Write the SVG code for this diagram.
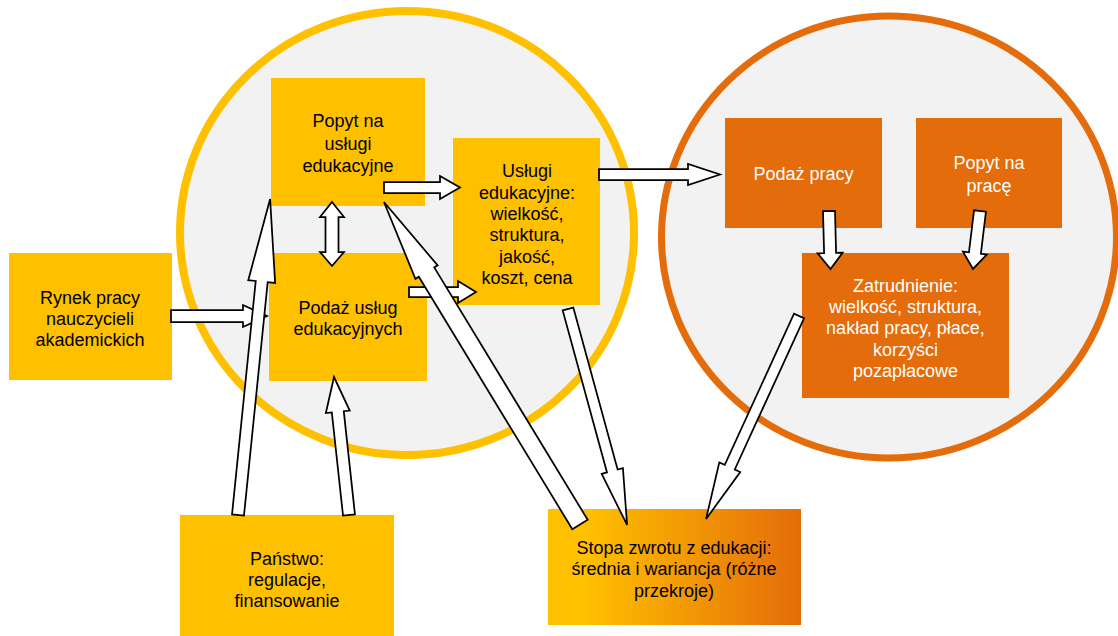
<svg xmlns="http://www.w3.org/2000/svg" width="1118" height="636" viewBox="0 0 1118 636">
  <defs>
    <linearGradient id="gradStopa" x1="0" y1="0" x2="1" y2="0">
      <stop offset="0" stop-color="#FFC000"/>
      <stop offset="0.15" stop-color="#FFC000"/>
      <stop offset="1" stop-color="#E46C0A"/>
    </linearGradient>
    <style>
      .bg { fill: #FFFFFF; }
      .ringY { fill: #F2F2F2; stroke: #FFC000; stroke-width: 8; }
      .ringO { fill: #F2F2F2; stroke: #E46C0A; stroke-width: 7; }
      .boxY { fill: #FFC000; }
      .boxO { fill: #E46C0A; }
      .txt { font-family: "Liberation Sans", Arial, sans-serif; font-size: 18px; text-anchor: middle; fill: #000000; }
      .txtW { fill: #FFFFFF; }
      .arr { fill: #FFFFFF; stroke: #000000; stroke-width: 1.75; stroke-linejoin: miter; }
    </style>
  </defs>
  <rect class="bg" x="0" y="0" width="1118" height="636"/>

  <g id="circles">
    <ellipse class="ringY" cx="407" cy="233" rx="227" ry="222"/>
    <ellipse class="ringO" cx="889" cy="237" rx="227.5" ry="221"/>
  </g>

  <g id="node-rynek">
    <rect class="boxY" x="9" y="253" width="163" height="127"/>
    <text class="txt" x="90" y="303.5">Rynek pracy</text>
    <text class="txt" x="90" y="324.5">nauczycieli</text>
    <text class="txt" x="90" y="345.5">akademickich</text>
  </g>

  <g id="node-popyt">
    <rect class="boxY" x="271" y="78" width="154" height="128"/>
    <text class="txt" x="348" y="127">Popyt na</text>
    <text class="txt" x="348" y="149.5">usługi</text>
    <text class="txt" x="348" y="172">edukacyjne</text>
  </g>

  <g id="node-podaz">
    <rect class="boxY" x="269" y="253" width="158" height="128"/>
    <text class="txt" x="348" y="313.5">Podaż usług</text>
    <text class="txt" x="348" y="334.5">edukacyjnych</text>
  </g>

  <g id="node-uslugi">
    <rect class="boxY" x="453" y="138" width="147" height="167"/>
    <text class="txt" x="527" y="176.5">Usługi</text>
    <text class="txt" x="527" y="198.5">edukacyjne:</text>
    <text class="txt" x="527" y="219.5">wielkość,</text>
    <text class="txt" x="527" y="240.5">struktura,</text>
    <text class="txt" x="527" y="262.5">jakość,</text>
    <text class="txt" x="527" y="283.5">koszt, cena</text>
  </g>

  <g id="node-podaz-pracy">
    <rect class="boxO" x="725" y="118" width="157" height="110"/>
    <text class="txt txtW" x="803.5" y="179.5">Podaż pracy</text>
  </g>

  <g id="node-popyt-na-prace">
    <rect class="boxO" x="916" y="118" width="146" height="110"/>
    <text class="txt txtW" x="989" y="168.5">Popyt na</text>
    <text class="txt txtW" x="989" y="191.5">pracę</text>
  </g>

  <g id="node-zatrudnienie">
    <rect class="boxO" x="802" y="253" width="207" height="145"/>
    <text class="txt txtW" x="905.5" y="291.5">Zatrudnienie:</text>
    <text class="txt txtW" x="905.5" y="312.5">wielkość, struktura,</text>
    <text class="txt txtW" x="905.5" y="333.5">nakład pracy, płace,</text>
    <text class="txt txtW" x="905.5" y="355.5">korzyści</text>
    <text class="txt txtW" x="905.5" y="376.5">pozapłacowe</text>
  </g>

  <g id="node-panstwo">
    <rect class="boxY" x="180" y="515" width="214" height="121"/>
    <text class="txt" x="287" y="564.5">Państwo:</text>
    <text class="txt" x="287" y="585.5">regulacje,</text>
    <text class="txt" x="287" y="606.5">finansowanie</text>
  </g>

  <g id="node-stopa">
    <rect x="548" y="509" width="253" height="116" fill="url(#gradStopa)"/>
    <text class="txt" x="674" y="553.5">Stopa zwrotu z edukacji:</text>
    <text class="txt" x="674" y="574.5">średnia i wariancja (różne</text>
    <text class="txt" x="674" y="596.5">przekroje)</text>
  </g>

  <g id="connectors">
    <!-- Rynek -> Podaż -->
    <polygon class="arr" transform="translate(171,316)" points="0,-6 72,-6 72,-11 96,0 72,11 72,6 0,6"/>
    <!-- Popyt -> Usługi -->
    <polygon class="arr" transform="translate(384,187.5)" points="0,-5.5 56,-5.5 56,-11.5 76,0 56,11.5 56,5.5 0,5.5"/>
    <!-- Podaż -> Usługi -->
    <polygon class="arr" transform="translate(409,292)" points="0,-5 49,-5 49,-11 67,0 49,11 49,5 0,5"/>
    <!-- Popyt <-> Podaż -->
    <polygon class="arr" points="332,202 344,217 338.5,217 338.5,252 344,252 332,266 320,252 325.5,252 325.5,217 320,217"/>
    <!-- Usługi -> Podaż pracy -->
    <polygon class="arr" transform="translate(599,174.5)" points="0,-5.5 89,-5.5 89,-10.5 121,0 89,10.5 89,5.5 0,5.5"/>
    <!-- Podaż pracy -> Zatrudnienie -->
    <polygon class="arr" transform="translate(829,211) rotate(88.5)" points="0,-6 42,-6 42,-12.5 58,0 42,12.5 42,6 0,6"/>
    <!-- Popyt na pracę -> Zatrudnienie -->
    <polygon class="arr" transform="translate(980,211) rotate(96.9)" points="0,-6 42.4,-6 42.4,-12 58.4,0 42.4,12 42.4,6 0,6"/>
    <!-- Zatrudnienie -> Stopa -->
    <polygon class="arr" transform="translate(799,316) rotate(114.6)" points="0,-5.5 166.3,-5.5 166.3,-11.5 223.3,0 166.3,11.5 166.3,5.5 0,5.5"/>
    <!-- Usługi -> Stopa -->
    <polygon class="arr" transform="translate(568,309) rotate(74.7)" points="0,-5.5 167.9,-5.5 167.9,-11 223.9,0 167.9,11 167.9,5.5 0,5.5"/>
    <!-- Stopa -> Popyt -->
    <polygon class="arr" transform="translate(580,524.5) rotate(-121.3)" points="0,-9 295.4,-9 295.4,-13 377.4,0 295.4,13 295.4,9 0,9"/>
    <!-- Państwo -> Popyt -->
    <polygon class="arr" transform="translate(238,515) rotate(-84.2)" points="0,-6 234.6,-6 234.6,-13.5 317.6,0 234.6,13.5 234.6,6 0,6"/>
    <!-- Państwo -> Podaż -->
    <polygon class="arr" transform="translate(349,515) rotate(-96.2)" points="0,-6 103.8,-6 103.8,-12 138.8,0 103.8,12 103.8,6 0,6"/>
  </g>
</svg>
